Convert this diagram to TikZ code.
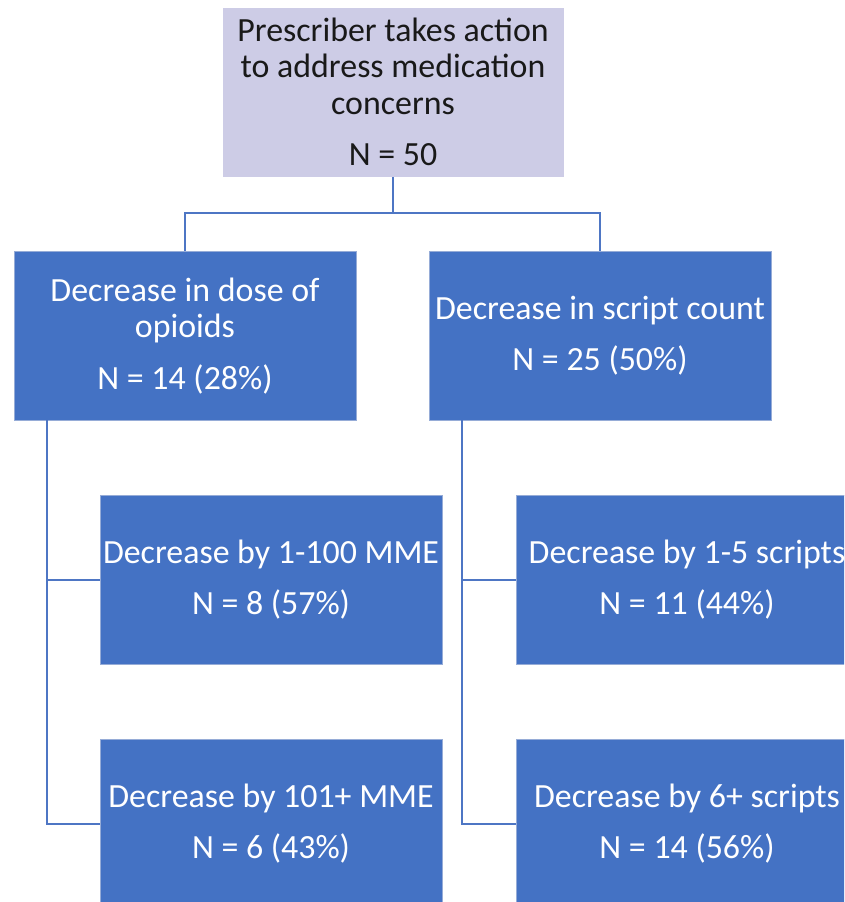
\documentclass[tikz,border=0pt]{standalone}
\usepackage{fontspec}
\setmainfont{Carlito}
\usetikzlibrary{calc}
\definecolor{boxblue}{RGB}{68,114,196}
\definecolor{lav}{RGB}{205,204,230}
\definecolor{edgeblue}{RGB}{150,172,215}
\definecolor{linkblue}{RGB}{78,118,196}
\begin{document}
\begin{tikzpicture}[x=0.75pt,y=-0.75pt,
  every node/.style={inner sep=0pt, outer sep=0pt},
  txt/.style={align=center, font=\fontsize{25.4}{27.4}\selectfont},
  topbox/.style={txt, fill=lav, draw=white, line width=0.5pt, text=black!90,
    minimum width=256.5pt, minimum height=127.5pt, anchor=north west},
  bluebox/.style={txt, fill=boxblue, draw=edgeblue, line width=0.5pt, text=white,
    minimum width=256.5pt, minimum height=127pt, anchor=north west},
  link/.style={draw=linkblue, line width=1.3pt}]
\useasboundingbox (0,0) rectangle (844,902);
\clip (0,0) rectangle (844,902);
\node[topbox] (top) at (222,7) {Prescriber takes action\\to address medication\\concerns\\[11.2pt]N = 50};
\node[bluebox] (L) at (14,251) {Decrease in dose of\\opioids\\[11.2pt]N = 14 (28\%)};
\node[bluebox] (R) at (429,251) {Decrease in script count\\[11.2pt]N = 25 (50\%)};
\node[bluebox] (L1) at (100,495) {Decrease by 1-100 MME\\[11.2pt]N = 8 (57\%)};
\node[bluebox] (L2) at (100,739) {Decrease by 101+ MME\\[11.2pt]N = 6 (43\%)};
\node[bluebox] (R1) at (516,495) {Decrease by 1-5 scripts\\[11.2pt]N = 11 (44\%)};
\node[bluebox] (R2) at (516,739) {Decrease by 6+ scripts\\[11.2pt]N = 14 (56\%)};
\coordinate (bus) at (393,213);
\coordinate (Lt) at ($(L.south west)+(33,0)$);
\coordinate (Rt) at ($(R.south west)+(33,0)$);
\draw[link] (top.south) -- (bus) -| (L.north);
\draw[link] (bus) -| (R.north);
\draw[link] (Lt) |- (L1.west);
\draw[link] (Lt) |- (L2.west);
\draw[link] (Rt) |- (R1.west);
\draw[link] (Rt) |- (R2.west);
\end{tikzpicture}
\end{document}
